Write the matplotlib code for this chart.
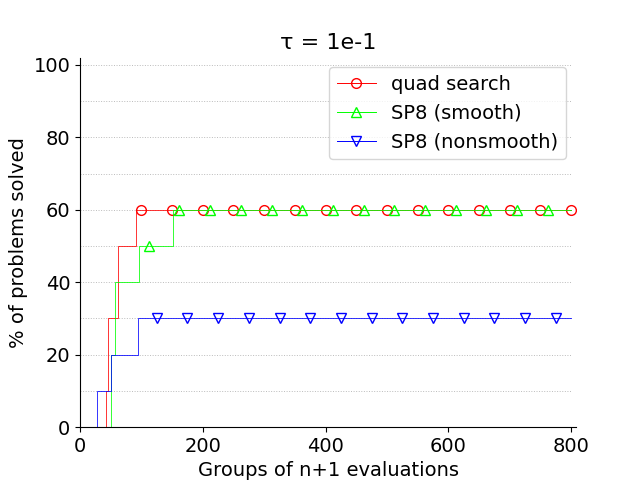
import numpy as np
import matplotlib
matplotlib.use("Agg")
import matplotlib.pyplot as plt

# step profiles: x where the fraction changes, and the value from there on
quad_x = [0, 42, 45, 62, 92, 800]
quad_y = [0, 10, 30, 50, 60, 60]
smooth_x = [0, 50, 57, 96, 152, 800]
smooth_y = [0, 20, 40, 50, 60, 60]
nonsmooth_x = [0, 27, 51, 94, 800]
nonsmooth_y = [0, 10, 20, 30, 30]

# where the markers sit along each curve
quad_marks = [100, 150, 200, 250, 300, 350, 400, 450, 500, 550, 600, 650, 700, 750, 800]
smooth_marks = [112, 162, 212, 262, 312, 362, 412, 462, 512, 562, 612, 662, 712, 762]
nonsmooth_marks = [125, 175, 225, 275, 325, 375, 425, 475, 525, 575, 625, 675, 725, 775]

grid_levels = [10, 20, 30, 40, 50, 60, 70, 80, 90, 100]


def step_value(xs, ys, at):
    xs = np.asarray(xs)
    ys = np.asarray(ys)
    return ys[np.searchsorted(xs, at, side="right") - 1]


fig, ax = plt.subplots(figsize=(6.4, 4.8), dpi=100)

ax.hlines(grid_levels, 0, 800, colors="#bbbbbb", linestyles=":", linewidth=0.7, zorder=0)

series = [
    ("quad search", quad_x, quad_y, quad_marks, "#ff0000", "o"),
    ("SP8 (smooth)", smooth_x, smooth_y, smooth_marks, "#00ff00", "^"),
    ("SP8 (nonsmooth)", nonsmooth_x, nonsmooth_y, nonsmooth_marks, "#0000ff", "v"),
]

handles = []
for label, xs, ys, marks, color, marker in series:
    (line,) = ax.plot(xs, ys, drawstyle="steps-post", color=color, linewidth=0.7, alpha=0.8)
    (pts,) = ax.plot(
        marks,
        step_value(xs, ys, marks),
        linestyle="none",
        marker=marker,
        markersize=7,
        markerfacecolor="none",
        markeredgecolor=color,
        markeredgewidth=1.0,
    )
    proxy = plt.Line2D([], [], color=color, linewidth=0.7, marker=marker, markersize=7,
                       markerfacecolor="none", markeredgecolor=color, markeredgewidth=1.0)
    handles.append((proxy, label))

ax.set_xlim(0, 808)
ax.set_ylim(0, 102)
ax.set_xticks([0, 200, 400, 600, 800])
ax.set_yticks([0, 20, 40, 60, 80, 100])
ax.tick_params(labelsize=14)
ax.spines["top"].set_visible(False)
ax.spines["right"].set_visible(False)

ax.set_title("τ = 1e-1", fontsize=16)
ax.set_xlabel("Groups of n+1 evaluations", fontsize=14)
ax.set_ylabel("% of problems solved", fontsize=14)
ax.legend([h for h, _ in handles], [l for _, l in handles], loc="upper right", fontsize=14)

fig.savefig("out.png", dpi=100)
